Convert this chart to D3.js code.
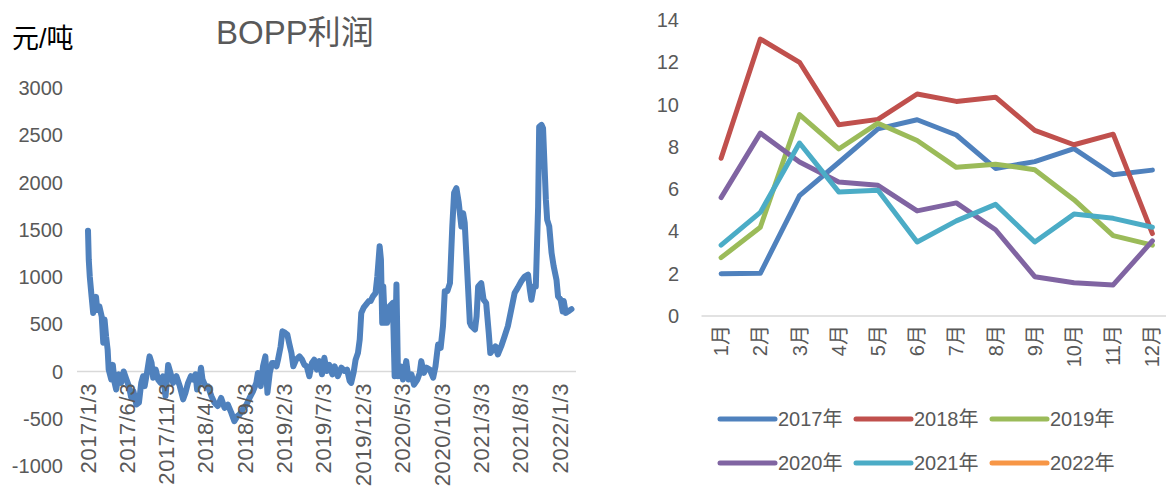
<!DOCTYPE html>
<html>
<head>
<meta charset="utf-8">
<title>BOPP利润</title>
<script src="https://cdn.jsdelivr.net/npm/d3@7"></script>
<style>
body { margin: 0; background: #fff; font-family: "Liberation Sans", Arial, "Noto Sans CJK SC", sans-serif; }
svg text { fill: #595959; }
</style>
</head>
<body>
<script>
// left chart: BOPP profit, 元/吨
var profitDates = [
  "2017-01-03","2017-01-06","2017-01-10","2017-01-17","2017-01-23","2017-02-03","2017-02-08","2017-02-16","2017-02-25","2017-03-03",
  "2017-03-08","2017-03-14","2017-03-20","2017-03-24","2017-04-03","2017-04-09","2017-04-16","2017-04-22","2017-05-02","2017-05-11",
  "2017-05-21","2017-05-31","2017-06-10","2017-06-19","2017-06-28","2017-07-09","2017-07-19","2017-07-28","2017-08-04","2017-08-10",
  "2017-08-19","2017-08-29","2017-09-06","2017-09-12","2017-09-22","2017-10-01","2017-10-11","2017-10-20","2017-10-30","2017-11-09",
  "2017-11-18","2017-11-28","2017-12-11","2017-12-24","2018-01-06","2018-01-15","2018-01-25","2018-02-05","2018-02-14","2018-02-23",
  "2018-03-01","2018-03-10","2018-03-16","2018-03-22","2018-04-02","2018-04-12","2018-04-25","2018-05-07","2018-05-20","2018-06-02",
  "2018-06-15","2018-06-28","2018-07-11","2018-07-23","2018-08-04","2018-08-12","2018-08-25","2018-09-08","2018-09-20","2018-10-03",
  "2018-10-16","2018-10-22","2018-11-02","2018-11-11","2018-11-20","2018-11-28","2018-12-07","2018-12-16","2018-12-22","2019-01-02",
  "2019-01-08","2019-01-18","2019-01-25","2019-02-04","2019-02-13","2019-02-20","2019-03-01","2019-03-08","2019-03-19","2019-04-01",
  "2019-04-11","2019-04-20","2019-04-29","2019-05-09","2019-05-19","2019-05-28","2019-06-07","2019-06-17","2019-06-27","2019-07-06",
  "2019-07-15","2019-07-25","2019-08-06","2019-08-15","2019-08-27","2019-09-10","2019-09-23","2019-10-02","2019-10-12","2019-10-18",
  "2019-10-27","2019-11-04","2019-11-13","2019-11-20","2019-11-26","2019-12-05","2019-12-15","2019-12-25","2020-01-01","2020-01-10",
  "2020-01-20","2020-01-27","2020-02-05","2020-02-10","2020-02-15","2020-02-19","2020-02-25","2020-03-05","2020-03-14","2020-03-27",
  "2020-04-03","2020-04-10","2020-04-16","2020-04-26","2020-05-05","2020-05-18","2020-05-27","2020-06-07","2020-06-17","2020-06-30",
  "2020-07-09","2020-07-15","2020-07-25","2020-08-04","2020-08-17","2020-08-30","2020-09-08","2020-09-18","2020-09-28","2020-10-07",
  "2020-10-14","2020-10-24","2020-11-03","2020-11-12","2020-11-19","2020-11-28","2020-12-07","2020-12-17","2020-12-24","2020-12-30",
  "2021-01-19","2021-01-25","2021-02-08","2021-02-14","2021-02-20","2021-03-04","2021-03-13","2021-03-23","2021-04-02","2021-04-08",
  "2021-04-18","2021-04-28","2021-05-07","2021-05-20","2021-06-02","2021-06-15","2021-06-28","2021-07-11","2021-07-23","2021-08-06",
  "2021-08-19","2021-09-01","2021-09-08","2021-09-14","2021-09-23","2021-10-01","2021-10-10","2021-10-14","2021-10-23","2021-10-29",
  "2021-11-09","2021-11-14","2021-11-22","2021-12-01","2021-12-09","2021-12-20","2021-12-26","2022-01-05","2022-01-13","2022-01-17",
  "2022-01-25","2022-02-03","2022-02-16"
];
var profitValues = [
  1490,1180,1000,790,620,790,650,690,580,305,
  550,370,230,20,-85,70,-120,-190,-30,-120,
  0,-80,-155,-275,-210,-350,-330,-120,-50,-155,
  -15,160,90,-65,20,-85,-120,-50,-260,70,
  -15,-120,-50,-155,-295,-225,-120,-50,-85,-30,
  -190,-85,40,-85,-155,-155,-260,-330,-365,-280,
  -385,-350,-435,-525,-470,-455,-400,-350,-280,-210,
  -120,-15,-155,55,160,-225,-15,90,90,55,
  125,265,425,410,390,300,195,55,125,160,
  125,70,55,-50,90,125,20,110,-30,145,
  5,70,-30,55,-50,40,5,20,-100,-120,
  -15,125,195,340,620,675,710,745,745,795,
  830,1005,1325,1185,515,900,515,515,690,725,
  -50,920,-50,55,-85,110,-85,-30,-140,-85,
  -15,110,-15,40,20,-65,55,285,250,480,
  850,850,935,1535,1890,1940,1785,1535,1675,1575,
  515,480,445,585,900,935,760,725,410,195,
  230,265,180,265,370,480,655,830,885,955,
  1005,1025,865,760,900,900,1745,2590,2610,2575,
  1815,1605,1535,1255,1115,970,795,760,635,745,
  620,635,660
];
var profitTicks = [3000, 2500, 2000, 1500, 1000, 500, 0, -500, -1000];
var dateTicks = ["2017-01-03","2017-06-03","2017-11-03","2018-04-03","2018-09-03","2019-02-03","2019-07-03",
  "2019-12-03","2020-05-03","2020-10-03","2021-03-03","2021-08-03","2022-01-03"];

// right chart: monthly values by year
var months = ["1月","2月","3月","4月","5月","6月","7月","8月","9月","10月","11月","12月"];
var years = ["2017年","2018年","2019年","2020年","2021年","2022年"];
var v2017 = [2.0, 2.02, 5.69, 7.26, 8.85, 9.28, 8.56, 6.98, 7.3, 7.92, 6.68, 6.9];
var v2018 = [7.46, 13.1, 12.0, 9.05, 9.3, 10.5, 10.15, 10.35, 8.78, 8.1, 8.6, 3.9];
var v2019 = [2.76, 4.2, 9.53, 7.9, 9.12, 8.3, 7.03, 7.18, 6.92, 5.5, 3.8, 3.35];
var v2020 = [5.6, 8.65, 7.28, 6.34, 6.18, 4.97, 5.35, 4.08, 1.86, 1.57, 1.47, 3.55];
var v2021 = [3.35, 4.9, 8.18, 5.87, 5.95, 3.5, 4.5, 5.28, 3.5, 4.82, 4.62, 4.2];
var v2022 = [];
var seasonTicks = [0, 2, 4, 6, 8, 10, 12, 14];
var colors = ["#4F81BD", "#C0504D", "#9BBB59", "#8064A2", "#4BACC6", "#F79646"];

var svg = d3.select("body").append("svg")
    .attr("width", 1166)
    .attr("height", 488);

var parse = d3.timeParse("%Y-%m-%d");
var fmt = d3.timeFormat("%Y/%-m/%-d");

// ---- left chart ----
var x = d3.scaleTime()
    .domain([parse("2017-01-03"), parse("2022-02-18")])
    .range([88, 572]);
var y = d3.scaleLinear()
    .domain([-1000, 3000])
    .range([466, 88]);

var left = svg.append("g");

left.append("text")
    .attr("x", 12).attr("y", 48)
    .style("font-size", "27px").style("fill", "#000")
    .text("元/吨");
left.append("text")
    .attr("x", 216).attr("y", 44)
    .style("font-size", "33px")
    .text("BOPP利润");

left.selectAll(".ytick")
    .data(profitTicks)
    .enter().append("text")
    .attr("class", "ytick")
    .attr("x", 63)
    .attr("y", function(d) { return y(d); })
    .attr("dy", "0.35em")
    .attr("text-anchor", "end")
    .style("font-size", "20px")
    .text(function(d) { return d; });

left.append("line")
    .attr("x1", 77).attr("x2", 576)
    .attr("y1", y(0)).attr("y2", y(0))
    .attr("stroke", "#D9D9D9").attr("stroke-width", 1.5);

var profit = profitDates.map(function(d, i) { return { date: parse(d), value: profitValues[i] }; });

left.append("path")
    .datum(profit)
    .attr("fill", "none")
    .attr("stroke", "#4F81BD")
    .attr("stroke-width", 6)
    .attr("stroke-linejoin", "round")
    .attr("stroke-linecap", "round")
    .attr("d", d3.line()
        .x(function(d) { return x(d.date); })
        .y(function(d) { return y(d.value); }));

left.selectAll(".xtick")
    .data(dateTicks)
    .enter().append("text")
    .attr("class", "xtick")
    .attr("transform", function(d) { return "translate(" + x(parse(d)) + "," + 383 + ") rotate(-90)"; })
    .attr("dy", "0.35em")
    .attr("text-anchor", "end")
    .style("font-size", "22px")
    .style("letter-spacing", "0.6px")
    .text(function(d) { return fmt(parse(d)); });

// ---- right chart ----
var bx = d3.scaleBand()
    .domain(months)
    .range([701.5, 1172]);
var by = d3.scaleLinear()
    .domain([0, 14])
    .range([316, 20]);

var right = svg.append("g");

right.selectAll(".ytick2")
    .data(seasonTicks)
    .enter().append("text")
    .attr("class", "ytick2")
    .attr("x", 679)
    .attr("y", function(d) { return by(d); })
    .attr("dy", "0.35em")
    .attr("text-anchor", "end")
    .style("font-size", "20px")
    .text(function(d) { return d; });

right.append("line")
    .attr("x1", 701.5).attr("x2", 1172)
    .attr("y1", by(0)).attr("y2", by(0))
    .attr("stroke", "#D9D9D9").attr("stroke-width", 1.5);

right.selectAll(".mtick")
    .data(months)
    .enter().append("text")
    .attr("class", "mtick")
    .attr("transform", function(d) { return "translate(" + (bx(d) + bx.bandwidth() / 2) + "," + 325 + ") rotate(-90)"; })
    .attr("dy", "0.35em")
    .attr("text-anchor", "end")
    .style("font-size", "20px")
    .text(function(d) { return d; });

var series = [v2017, v2018, v2019, v2020, v2021, v2022];
var mline = d3.line()
    .x(function(d, i) { return bx(months[i]) + bx.bandwidth() / 2; })
    .y(function(d) { return by(d); });

right.selectAll(".season")
    .data(series)
    .enter().append("path")
    .attr("class", "season")
    .attr("fill", "none")
    .attr("stroke", function(d, i) { return colors[i]; })
    .attr("stroke-width", 5)
    .attr("stroke-linejoin", "round")
    .attr("stroke-linecap", "round")
    .attr("d", function(d) { return d.length ? mline(d) : null; });

// legend, 2 rows of 3
var legend = right.selectAll(".legend")
    .data(years)
    .enter().append("g")
    .attr("class", "legend")
    .attr("transform", function(d, i) { return "translate(" + (720 + (i % 3) * 136) + "," + (419 + Math.floor(i / 3) * 44) + ")"; });
legend.append("line")
    .attr("x1", 0).attr("x2", 55)
    .attr("stroke", function(d, i) { return colors[i]; })
    .attr("stroke-width", 5)
    .attr("stroke-linecap", "round");
legend.append("text")
    .attr("x", 58)
    .attr("dy", "0.35em")
    .style("font-size", "20px")
    .text(function(d) { return d; });
</script>
</body>
</html>
